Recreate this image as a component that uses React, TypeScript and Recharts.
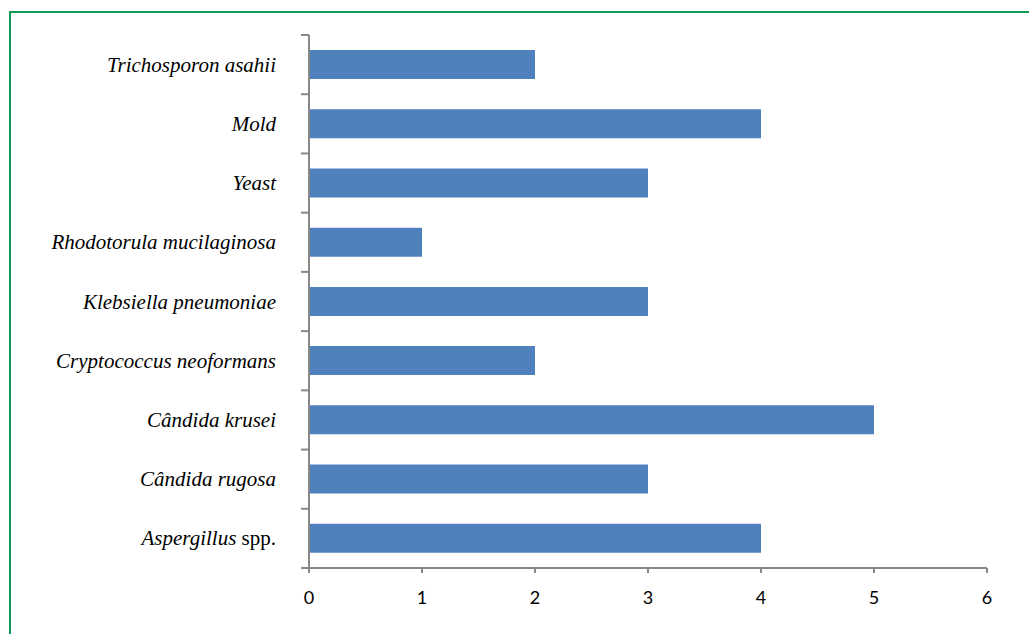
import React from 'react';
import { BarChart, Bar, XAxis, YAxis } from 'recharts';

const species = [
  'Trichosporon asahii',
  'Mold',
  'Yeast',
  'Rhodotorula mucilaginosa',
  'Klebsiella pneumoniae',
  'Cryptococcus neoformans',
  'Cândida krusei',
  'Cândida rugosa',
  'Aspergillus spp.',
];
const counts = [2, 4, 3, 1, 3, 2, 5, 3, 4];
const xTicks = [0, 1, 2, 3, 4, 5, 6];

const data = species.map((name, i) => ({ name, count: counts[i] }));

const AXIS = '#888888';
const BAR = '#4F81BD';

// label plus the short tick marks at the band edges (Excel style)
const SpeciesTick = ({ x, y, payload, height, visibleTicksCount, index }: any) => {
  const label: string = payload.value;
  const spp = label.endsWith(' spp.');
  const band = height / visibleTicksCount;
  const last = index === visibleTicksCount - 1;
  return (
    <g>
      <line x1={x - 6} x2={x + 2} y1={y - band / 2} y2={y - band / 2} stroke={AXIS} strokeWidth={2} />
      {last && <line x1={x - 6} x2={x + 2} y1={y + band / 2} y2={y + band / 2} stroke={AXIS} strokeWidth={2} />}
      <text
        x={x - 31}
        y={y}
        dy={7}
        textAnchor="end"
        fontFamily="'Liberation Serif', 'Times New Roman', serif"
        fontSize={21}
        fill="#000"
      >
        {spp ? (
          <>
            <tspan fontStyle="italic">{label.replace(' spp.', '')}</tspan>
            <tspan> spp.</tspan>
          </>
        ) : (
          <tspan fontStyle="italic">{label}</tspan>
        )}
      </text>
    </g>
  );
};

export default function App() {
  return (
    <div style={{ position: 'absolute', left: 0, top: 0, width: 1029, height: 634, background: '#fff', overflow: 'hidden' }}>
      <div
        style={{
          position: 'absolute',
          left: 9,
          top: 11,
          width: 1100,
          height: 700,
          borderTop: '2px solid #0E9A52',
          borderLeft: '2px solid #0E9A52',
        }}
      />
      <div style={{ position: 'absolute', left: 0, top: 0 }}>
        <BarChart
          width={1029}
          height={634}
          data={data}
          layout="vertical"
          margin={{ top: 35, right: 42, bottom: 36, left: 0 }}
          barSize={29}
        >
          <YAxis
            type="category"
            dataKey="name"
            width={309}
            axisLine={{ stroke: AXIS, strokeWidth: 2 }}
            tickLine={false}
            tickSize={0}
            tick={<SpeciesTick />}
            interval={0}
          />
          <XAxis
            type="number"
            dataKey="count"
            domain={[0, 6]}
            ticks={xTicks}
            axisLine={{ stroke: AXIS, strokeWidth: 2 }}
            tickLine={{ stroke: AXIS, strokeWidth: 2 }}
            tickSize={5}
            tickMargin={18}
            tick={{ fill: '#000', fontSize: 18, fontFamily: 'Lato, Carlito, sans-serif' }}
          />
          <Bar dataKey="count" fill={BAR} isAnimationActive={false} />
        </BarChart>
      </div>
    </div>
  );
}
